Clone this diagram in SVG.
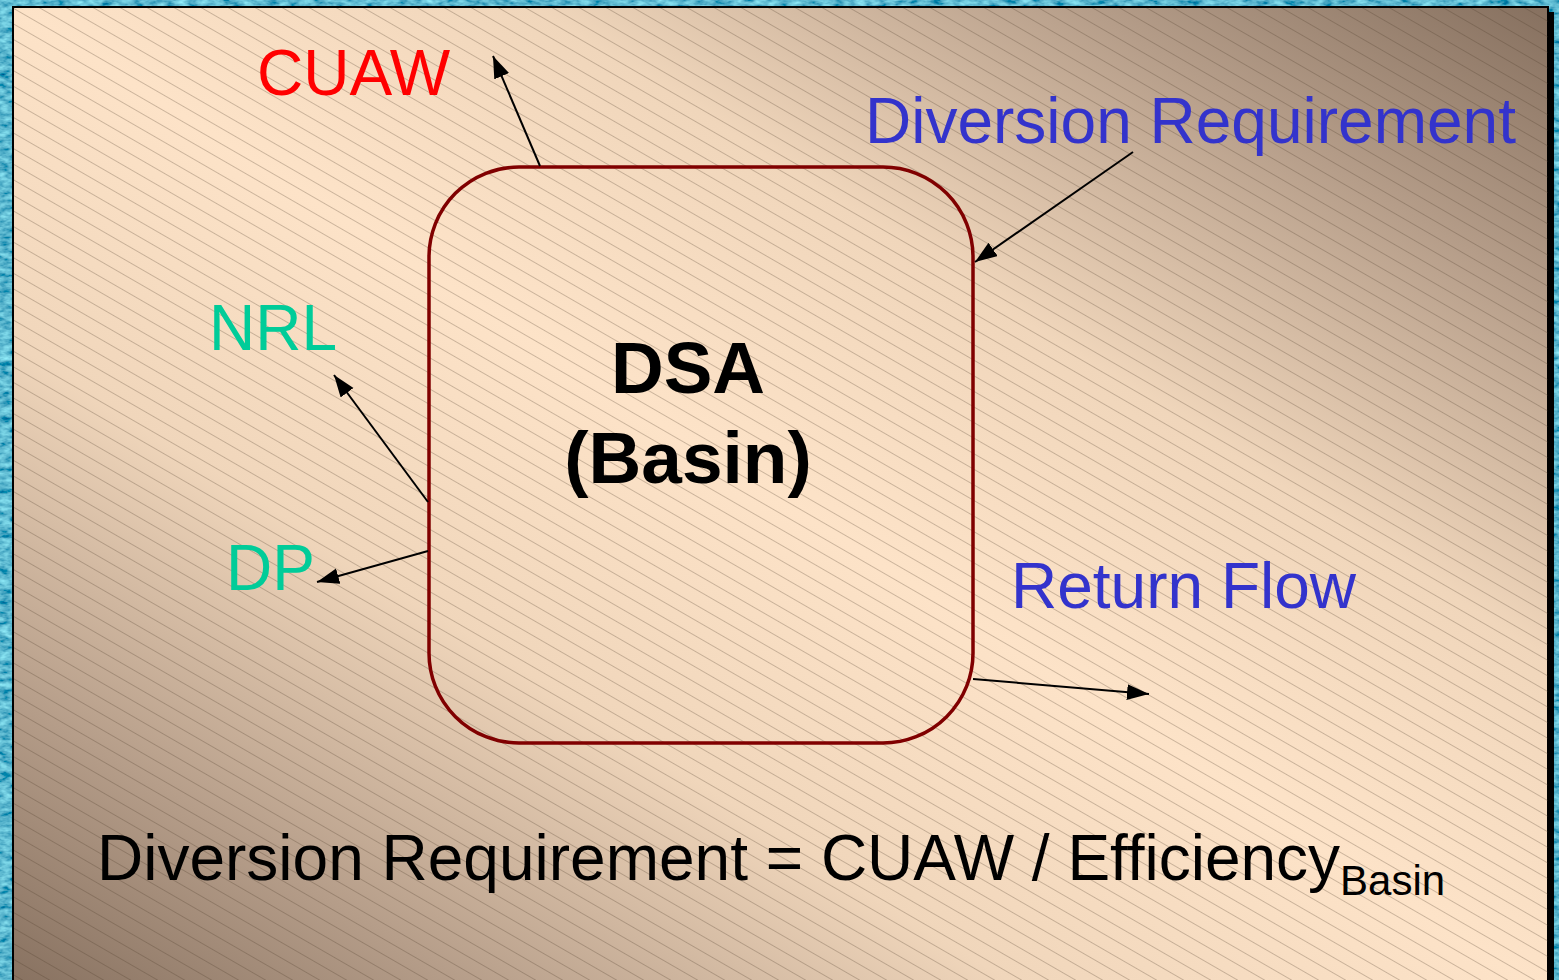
<svg xmlns="http://www.w3.org/2000/svg" width="1559" height="980" viewBox="0 0 1559 980">
  <defs>
    <!-- water-like blue texture for the frame -->
    <filter id="waterTex" x="0" y="0" width="100%" height="100%">
      <feTurbulence type="fractalNoise" baseFrequency="0.09 0.18" numOctaves="3" seed="7" result="noise"/>
      <feColorMatrix in="noise" type="matrix" values="0.45 0 0 0 -0.12  0.95 0 0 0 0.0  0.85 0 0 0 0.2  0 0 0 0 1"/>
    </filter>
    <!-- panel shading: dark at top-right and bottom-left, light across the middle -->
    <linearGradient id="panelGrad" x1="0" y1="1" x2="1" y2="0">
      <stop offset="0" stop-color="#86705f"/>
      <stop offset="0.15" stop-color="#b59d89"/>
      <stop offset="0.33" stop-color="#f0d6bb"/>
      <stop offset="0.5" stop-color="#fde3c8"/>
      <stop offset="0.67" stop-color="#f0d6bb"/>
      <stop offset="0.85" stop-color="#b59d89"/>
      <stop offset="1" stop-color="#86705f"/>
    </linearGradient>
    <!-- fine diagonal hatching over the panel -->
    <pattern id="hatch" width="40" height="13.5" patternUnits="userSpaceOnUse" patternTransform="rotate(30)">
      <line x1="0" y1="0.5" x2="40" y2="0.5" stroke="#4a3828" stroke-opacity="0.28" stroke-width="1"/>
    </pattern>
    <marker id="arrow" markerUnits="userSpaceOnUse" markerWidth="24" markerHeight="18" refX="22" refY="8" orient="auto">
      <path d="M0,0 L22,8 L0,16 Z" fill="#000"/>
    </marker>
    <style>
      .lbl { font-family: "Liberation Sans", Arial, sans-serif; font-size: 64px; }
      .title { font-family: "Liberation Sans", Arial, sans-serif; font-size: 73px; font-weight: bold; fill: #000; text-anchor: middle; }
      .flow { stroke: #000; stroke-width: 2; fill: none; marker-end: url(#arrow); }
    </style>
  </defs>

  <!-- frame -->
  <rect x="0" y="0" width="1559" height="980" fill="#236f93"/>
  <rect x="0" y="0" width="1559" height="980" filter="url(#waterTex)"/>

  <!-- panel with drop shadow -->
  <rect x="19" y="12" width="1535" height="980" fill="#000"/>
  <rect x="13" y="7" width="1535" height="985" fill="url(#panelGrad)" stroke="#000" stroke-width="2"/>
  <rect x="14" y="8" width="1534" height="972" fill="url(#hatch)"/>

  <!-- basin node -->
  <g id="basin">
    <rect x="429" y="167" width="544" height="576" rx="90" ry="90" fill="none" stroke="#800000" stroke-width="3.5"/>
    <text class="title" x="688" y="393">DSA</text>
    <text class="title" x="688" y="483">(Basin)</text>
  </g>

  <g id="cuaw"><text class="lbl" x="257" y="95" fill="#ff0000">CUAW</text></g>
  <g id="diversion"><text class="lbl" x="865" y="143" fill="#3333cc">Diversion Requirement</text></g>
  <g id="nrl"><text class="lbl" x="209" y="350" fill="#00cc99">NRL</text></g>
  <g id="dp"><text class="lbl" x="226" y="590" fill="#00cc99">DP</text></g>
  <g id="returnflow"><text class="lbl" x="1011" y="608" fill="#3333cc">Return Flow</text></g>

  <!-- connectors -->
  <g id="connectors">
    <line class="flow" x1="540" y1="166" x2="493" y2="56"/>
    <line class="flow" x1="1133" y1="152" x2="975" y2="262"/>
    <line class="flow" x1="428" y1="502" x2="334" y2="375"/>
    <line class="flow" x1="428" y1="551" x2="317" y2="582"/>
    <line class="flow" x1="973" y1="679" x2="1149" y2="694"/>
  </g>

  <!-- formula -->
  <g id="formula">
    <text class="lbl" x="97" y="880" fill="#000">Diversion Requirement = CUAW / Efficiency<tspan font-size="42" dy="15">Basin</tspan></text>
  </g>
</svg>
